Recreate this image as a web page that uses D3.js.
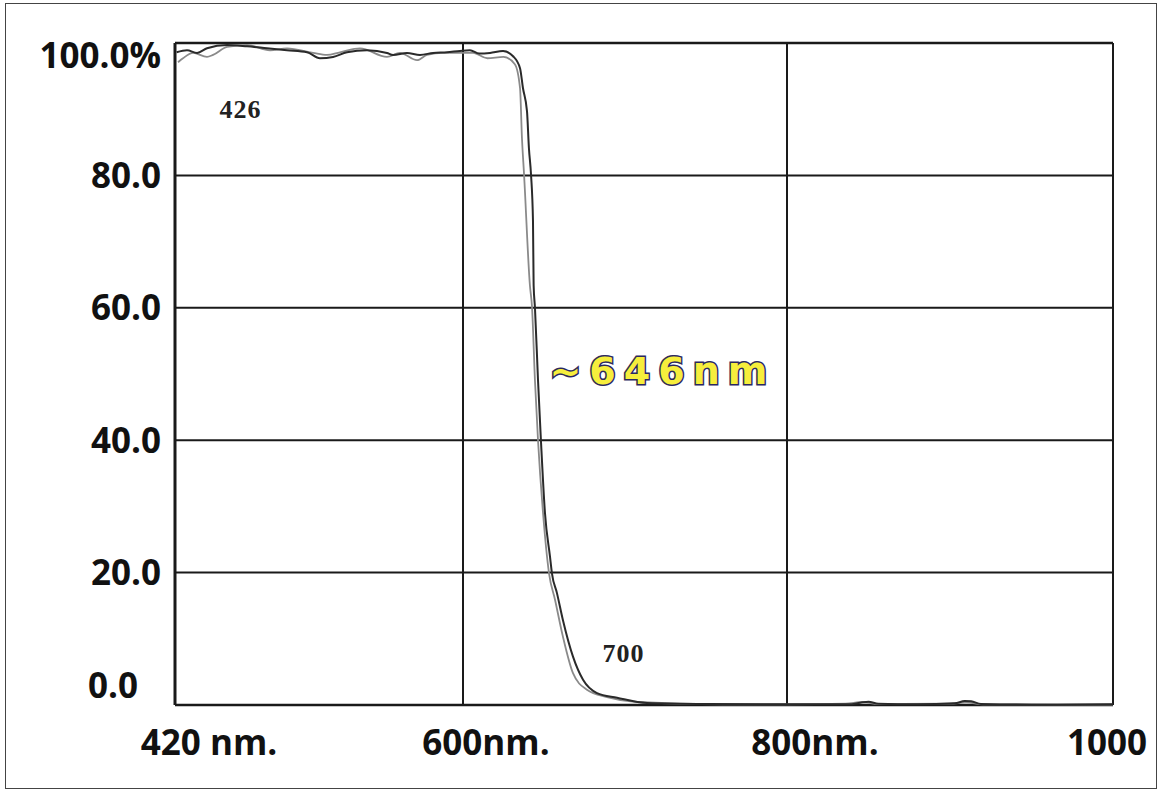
<!DOCTYPE html>
<html>
<head>
<meta charset="utf-8">
<script src="https://d3js.org/d3.v7.min.js"></script>
<style>
  body { margin: 0; background: #fff; }
  .tick-label { font-family: "Open Sans", sans-serif; font-weight: 700; fill: #111; }
  .note { font-family: "Liberation Serif", serif; font-weight: 700; fill: #222; }
</style>
</head>
<body>
<svg id="chart" width="1161" height="792"></svg>
<script>
// wavelength ticks (nm) and their labels
var xTicks = [420, 600, 800, 1000];
var xTickLabels = ["420 nm.", "600nm.", "800nm.", "1000"];
var yTicks = [0, 20, 40, 60, 80, 100];
var yTickLabels = ["0.0", "20.0", "40.0", "60.0", "80.0", "100.0%"];

// transmission, dark trace (nm, %)
var darkNm = [421, 427.5, 433.8, 440, 452.5, 465, 477.5, 490, 502.5, 510.6, 518.8, 527.5, 540, 552.5, 556.3, 565, 573.1, 581.3, 590, 598.1,
  604.3, 610, 616.7, 624.7, 630.9, 635.2, 637, 639.5, 640.7, 642, 643.2, 643.6, 644.4, 646.3, 648.1, 650.6, 653.7, 654.9, 658, 661.7,
  667.9, 674.1, 682.7, 695.1, 713.6, 750.6, 800, 838, 845, 850, 856, 880, 903, 909, 913, 919, 950, 1000];
var darkPct = [98.6, 98.9, 98.5, 99.2, 99.7, 99.5, 99.2, 98.9, 98.6, 97.7, 97.9, 98.6, 98.9, 98.5, 98.2, 98.5, 98.2, 98.5, 98.6, 98.8,
  98.9, 98.4, 98.5, 98.8, 98.0, 96.2, 93.2, 89.7, 84.1, 80.1, 73.1, 63.4, 60.1, 49.1, 40.0, 29.0, 22.4, 19.9, 16.9, 12.8,
  7.3, 3.8, 1.8, 1.1, 0.3, 0.15, 0.1, 0.1, 0.35, 0.5, 0.2, 0.1, 0.25, 0.6, 0.55, 0.15, 0.05, 0.1];

// transmission, grey trace (nm, %)
var greyNm = [421.9, 425, 431.3, 440, 443.8, 452.5, 465, 479.4, 490, 506.3, 515, 523.1, 535.6, 552.5, 560.6, 571.3, 577.5, 587.5, 596.3,
  606.2, 615, 625, 632, 635.2, 636.4, 637.7, 641.3, 642.6, 644.4, 646.3, 649.4, 653.1, 656.8, 661.7, 667.9, 676.5, 688.9, 707.4,
  760, 800, 836, 846, 856, 900, 910, 920, 1000];
var greyPct = [97.1, 97.7, 98.5, 97.9, 98.2, 99.4, 99.7, 98.9, 99.2, 98.5, 98.2, 98.6, 99.2, 97.9, 98.5, 97.4, 98.2, 98.5, 98.5,
  98.5, 97.7, 97.9, 96.8, 93.2, 85.6, 80.1, 63.4, 60.1, 49.1, 40.0, 29.0, 19.9, 15.9, 10.3, 4.8, 2.3, 1.2, 0.45,
  0.1, 0.1, 0.2, 0.45, 0.15, 0.2, 0.4, 0.1, 0.05];

var notes = [{text: "426", nm: 461, pct: 88.7},
             {text: "700", nm: 699, pct: 6.5}];
var cutoffLabel = "~646nm";

var svg = d3.select("#chart");

// whole picture frame
svg.append("rect")
    .attr("x", 5.5).attr("y", 3.5)
    .attr("width", 1151).attr("height", 785)
    .attr("fill", "none")
    .attr("stroke", "#444")
    .attr("stroke-width", 1);

// scanned chart isn't perfectly linear, so piecewise scale through the gridlines
var x = d3.scaleLinear().domain(xTicks).range([175, 463, 787, 1113]),
    y = d3.scaleLinear().domain([0, 100]).range([705, 43]);

var grid = svg.append("g");

grid.selectAll(".vgrid")
    .data(xTicks)
  .enter().append("line")
    .attr("class", "vgrid")
    .attr("x1", function(d) { return x(d); })
    .attr("x2", function(d) { return x(d); })
    .attr("y1", y(100))
    .attr("y2", y(0))
    .attr("stroke", "#1a1a1a")
    .attr("stroke-width", function(d, i) { return i == 0 ? 3 : 2; });

grid.selectAll(".hgrid")
    .data(yTicks)
  .enter().append("line")
    .attr("class", "hgrid")
    .attr("x1", x(420))
    .attr("x2", x(1000))
    .attr("y1", function(d) { return y(d); })
    .attr("y2", function(d) { return y(d); })
    .attr("stroke", "#1a1a1a")
    .attr("stroke-width", function(d) { return (d == 0 || d == 100) ? 2.5 : 2; });

var line = d3.line()
    .curve(d3.curveMonotoneX)
    .x(function(d) { return x(d[0]); })
    .y(function(d) { return y(d[1]); });

svg.append("path")
    .datum(d3.zip(greyNm, greyPct))
    .attr("d", line)
    .attr("fill", "none")
    .attr("stroke", "#8a8a8a")
    .attr("stroke-width", 1.8);

svg.append("path")
    .datum(d3.zip(darkNm, darkPct))
    .attr("d", line)
    .attr("fill", "none")
    .attr("stroke", "#2a2a2a")
    .attr("stroke-width", 2);

// y labels, the end ones were pushed inside the box on the original
var yNudge = {0: -20, 100: 12},
    yRight = {0: 138};
svg.selectAll(".ylab")
    .data(yTicks)
  .enter().append("text")
    .attr("class", "tick-label")
    .attr("x", function(d) { return yRight[d] || 161; })
    .attr("y", function(d) { return y(d) + (yNudge[d] || 0); })
    .attr("dy", "0.36em")
    .attr("text-anchor", "end")
    .style("font-size", "35px")
    .text(function(d, i) { return yTickLabels[i]; });

var xNudge = [34, 23, 28, -6];
svg.selectAll(".xlab")
    .data(xTicks)
  .enter().append("text")
    .attr("class", "tick-label")
    .attr("x", function(d, i) { return x(d) + xNudge[i]; })
    .attr("y", 755)
    .attr("text-anchor", "middle")
    .style("font-size", "35px")
    .text(function(d, i) { return xTickLabels[i]; });

svg.selectAll(".note")
    .data(notes)
  .enter().append("text")
    .attr("class", "note")
    .attr("x", function(d) { return x(d.nm); })
    .attr("y", function(d) { return y(d.pct); })
    .attr("text-anchor", "middle")
    .attr("letter-spacing", 1)
    .style("font-size", "26px")
    .text(function(d) { return d.text; });

svg.append("text")
    .attr("x", x(646) + 12)
    .attr("y", y(48.5))
    .attr("letter-spacing", 8)
    .style("font-family", "'DejaVu Sans', sans-serif")
    .style("font-weight", 700)
    .style("font-size", "38px")
    .style("fill", "#f6ee3c")
    .style("stroke", "#2b2860")
    .style("stroke-width", 3)
    .style("paint-order", "stroke")
    .text(cutoffLabel);
</script>
</body>
</html>
